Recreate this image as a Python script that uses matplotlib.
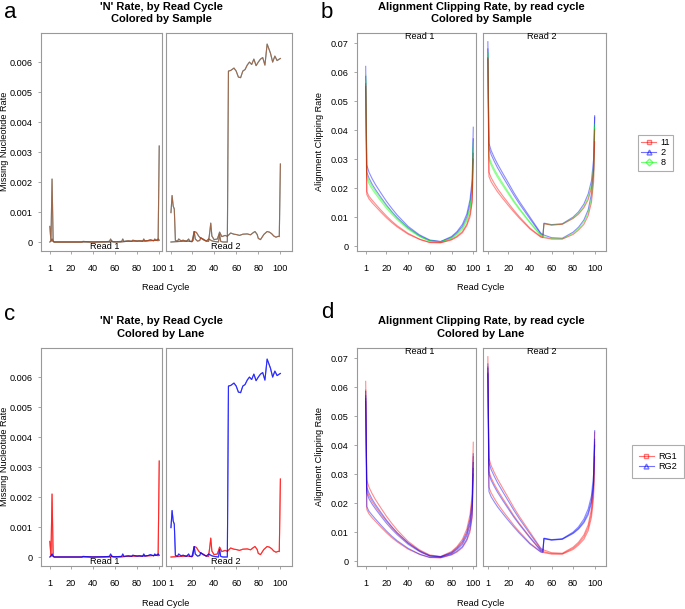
import matplotlib
matplotlib.use("Agg")
import matplotlib.pyplot as plt
from matplotlib.lines import Line2D
from matplotlib.transforms import blended_transform_factory

plt.rcParams['font.family'] = ['Liberation Sans', 'DejaVu Sans']

# ---------------- data ----------------
SAMPLES = ['11', '2', '8']
LANES = ['RG1', 'RG2']
SAMPLE_COLORS = {'11': '#FF0000', '2': '#0000FF', '8': '#00FF00'}
LANE_COLORS = {'RG1': '#FF0000', 'RG2': '#0000FF'}
XTICKS = [1, 20, 40, 60, 80, 100]
N_YTICKS = [0, 0.001, 0.002, 0.003, 0.004, 0.005, 0.006]
N_YTICK_LABELS = ['0', '0.001', '0.002', '0.003', '0.004', '0.005', '0.006']
CLIP_YTICKS = [0, 0.01, 0.02, 0.03, 0.04, 0.05, 0.06, 0.07]
CLIP_YTICK_LABELS = ['0', '0.01', '0.02', '0.03', '0.04', '0.05', '0.06', '0.07']

# missing nucleotide ('N') rate per lane (samples coincide)
N_R1_RG1_CYC = [1, 2, 3, 4, 5, 10, 20, 30, 40, 50, 56, 57, 58, 65, 70, 80, 90, 95, 98, 99, 100]
N_R1_RG1 = [0.00052, 0.00003, 0.0021, 0.00002, 0.0, 0.0, 0.0, 0.0, 0.0, 0.0, 0.0, 0.00004,
            0.0, 0.0, 0.00002, 0.00003, 0.00004, 0.00005, 0.00006, 0.00004, 0.0032]
N_R1_RG2_CYC = [1, 2, 3, 4, 5, 10, 20, 30, 31, 40, 50, 55, 56, 57, 60, 66, 67, 68, 72, 75,
                76, 80, 82, 85, 86, 87, 90, 92, 95, 96, 97, 98, 99, 100]
N_R1_RG2 = [0.0, 0.00003, 0.0001, 0.00002, 0.0, 0.0, 0.0, 0.0, 0.00002, 0.0, 0.00001, 0.00002,
            0.0001, 0.00002, 0.00001, 0.00002, 0.0001, 0.00002, 0.00004, 0.00002, 0.00006,
            0.00003, 0.00004, 0.00002, 0.0001, 0.00003, 0.00005, 0.00008, 0.00004, 0.0001,
            0.00005, 0.00007, 0.0001, 0.00006]
N_R2_RG1_CYC = [1, 5, 10, 15, 20, 21, 22, 24, 26, 28, 30, 33, 35, 36, 37, 38, 40, 43, 45, 47,
                50, 52, 55, 58, 60, 63, 66, 70, 73, 75, 77, 79, 80, 82, 85, 88, 90, 92, 94,
                96, 98, 99, 100]
N_R2_RG1 = [0.0, 0.00001, 0.00002, 0.00003, 0.00002, 0.00005, 0.00035, 0.00032, 0.0002,
            0.00012, 0.0001, 0.00003, 0.00002, 0.0003, 0.00063, 0.0002, 0.00008, 0.0001,
            0.00033, 0.00018, 0.00022, 0.00019, 0.0003, 0.00026, 0.00025, 0.00022, 0.00026,
            0.00027, 0.00024, 0.0003, 0.00035, 0.00025, 0.00012, 0.00008, 0.00025, 0.00035,
            0.00033, 0.00028, 0.0002, 0.00016, 0.00019, 0.00018, 0.0026]
N_R2_RG2_CYC = [1, 2, 3, 4, 5, 7, 8, 10, 12, 15, 17, 18, 20, 22, 23, 25, 27, 28, 30, 33, 35,
                38, 40, 42, 44, 45, 46, 48, 50, 52, 53, 55, 58, 60, 62, 64, 66, 68, 70, 72,
                74, 76, 78, 80, 82, 84, 86, 88, 89, 91, 93, 95, 97, 99, 100]
N_R2_RG2 = [0.00098, 0.00155, 0.0012, 0.0011, 0.00005, 0.00003, 0.0001, 0.00004, 0.00006,
            0.00002, 0.0001, 0.00002, 0.00001, 0.00035, 0.0001, 0.00003, 0.00005, 0.00015,
            0.00008, 0.00003, 0.0001, 0.00004, 0.00002, 0.00001, 0.0, 0.00025, 0.00002, 0.0,
            0.0, 0.0, 0.0057, 0.00572, 0.0058, 0.0057, 0.0055, 0.00548, 0.0057, 0.00575,
            0.0059, 0.006, 0.00592, 0.0061, 0.00588, 0.006, 0.0061, 0.00615, 0.0059, 0.0066,
            0.0065, 0.0063, 0.006, 0.0062, 0.00605, 0.0061, 0.00612]

# alignment clipping rate per sample and lane
CLIP_CYC = [1, 2, 4, 7, 10, 15, 20, 25, 30, 40, 50, 52, 53, 60, 70, 80, 85, 90, 94, 97, 99, 100]
CLIP_R1_S2_RG1 = [0.062, 0.0280, 0.0255, 0.0232, 0.0212, 0.0183, 0.0155, 0.0130, 0.0107, 0.0068,
                  0.0040, 0.0036, 0.0034, 0.0021, 0.0016, 0.0033, 0.0050, 0.0075, 0.0110, 0.0160,
                  0.0230, 0.0410]
CLIP_R1_S2_RG2 = [0.0585, 0.0255, 0.0235, 0.0213, 0.0195, 0.0168, 0.0142, 0.0119, 0.0098, 0.0063,
                  0.0037, 0.0033, 0.0031, 0.0019, 0.0015, 0.0030, 0.0046, 0.0068, 0.0100, 0.0145,
                  0.0210, 0.0370]
CLIP_R1_S8_RG1 = [0.059, 0.0245, 0.0225, 0.0205, 0.0188, 0.0162, 0.0138, 0.0116, 0.0096, 0.0062,
                  0.0036, 0.0032, 0.0030, 0.0018, 0.0015, 0.0028, 0.0043, 0.0063, 0.0093, 0.0135,
                  0.0195, 0.0360]
CLIP_R1_S8_RG2 = [0.057, 0.0235, 0.0215, 0.0196, 0.0180, 0.0155, 0.0131, 0.0110, 0.0091, 0.0058,
                  0.0034, 0.0030, 0.0028, 0.0017, 0.0014, 0.0026, 0.0040, 0.0058, 0.0087, 0.0125,
                  0.0180, 0.0340]
CLIP_R1_S11_RG1 = [0.055, 0.0178, 0.0163, 0.0149, 0.0137, 0.0117, 0.0098, 0.0081, 0.0066, 0.0041,
                   0.0024, 0.0021, 0.0020, 0.0012, 0.0011, 0.0021, 0.0031, 0.0046, 0.0070, 0.0100,
                   0.0150, 0.0300]
CLIP_R1_S11_RG2 = [0.056, 0.0188, 0.0172, 0.0158, 0.0145, 0.0124, 0.0104, 0.0086, 0.0070, 0.0044,
                   0.0025, 0.0022, 0.0021, 0.0013, 0.0012, 0.0023, 0.0034, 0.0050, 0.0075, 0.0110,
                   0.0160, 0.0320]
CLIP_R2_S2_RG1 = [0.0705, 0.0355, 0.0330, 0.0305, 0.0283, 0.0250, 0.0218, 0.0185, 0.0155, 0.0100,
                  0.0045, 0.0040, 0.0038, 0.0029, 0.0027, 0.0048, 0.0065, 0.0090, 0.0125, 0.0180,
                  0.0260, 0.0445]
CLIP_R2_S2_RG2 = [0.068, 0.0340, 0.0316, 0.0292, 0.0270, 0.0238, 0.0207, 0.0176, 0.0147, 0.0094,
                  0.0042, 0.0037, 0.0079, 0.0074, 0.0077, 0.0100, 0.0118, 0.0145, 0.0180, 0.0225,
                  0.0300, 0.0450]
CLIP_R2_S8_RG1 = [0.067, 0.0310, 0.0288, 0.0265, 0.0245, 0.0215, 0.0186, 0.0157, 0.0131, 0.0083,
                  0.0038, 0.0034, 0.0032, 0.0026, 0.0025, 0.0044, 0.0060, 0.0083, 0.0115, 0.0165,
                  0.0240, 0.0410]
CLIP_R2_S8_RG2 = [0.0665, 0.0300, 0.0279, 0.0257, 0.0237, 0.0208, 0.0180, 0.0152, 0.0127, 0.0080,
                  0.0036, 0.0033, 0.0078, 0.0073, 0.0076, 0.0097, 0.0113, 0.0137, 0.0168, 0.0210,
                  0.0275, 0.0420]
CLIP_R2_S11_RG1 = [0.065, 0.0255, 0.0236, 0.0216, 0.0198, 0.0172, 0.0148, 0.0124, 0.0102, 0.0062,
                   0.0033, 0.0030, 0.0029, 0.0024, 0.0024, 0.0040, 0.0055, 0.0075, 0.0105, 0.0150,
                   0.0220, 0.0360]
CLIP_R2_S11_RG2 = [0.0645, 0.0240, 0.0222, 0.0204, 0.0187, 0.0163, 0.0140, 0.0118, 0.0097, 0.0059,
                   0.0031, 0.0029, 0.0077, 0.0072, 0.0075, 0.0095, 0.0110, 0.0132, 0.0160, 0.0200,
                   0.0265, 0.0400]

N_DATA = {
    ('Read 1', 'RG1'): (N_R1_RG1_CYC, N_R1_RG1),
    ('Read 1', 'RG2'): (N_R1_RG2_CYC, N_R1_RG2),
    ('Read 2', 'RG1'): (N_R2_RG1_CYC, N_R2_RG1),
    ('Read 2', 'RG2'): (N_R2_RG2_CYC, N_R2_RG2),
}
CLIP_DATA = {
    ('Read 1', '2', 'RG1'): CLIP_R1_S2_RG1, ('Read 1', '2', 'RG2'): CLIP_R1_S2_RG2,
    ('Read 1', '8', 'RG1'): CLIP_R1_S8_RG1, ('Read 1', '8', 'RG2'): CLIP_R1_S8_RG2,
    ('Read 1', '11', 'RG1'): CLIP_R1_S11_RG1, ('Read 1', '11', 'RG2'): CLIP_R1_S11_RG2,
    ('Read 2', '2', 'RG1'): CLIP_R2_S2_RG1, ('Read 2', '2', 'RG2'): CLIP_R2_S2_RG2,
    ('Read 2', '8', 'RG1'): CLIP_R2_S8_RG1, ('Read 2', '8', 'RG2'): CLIP_R2_S8_RG2,
    ('Read 2', '11', 'RG1'): CLIP_R2_S11_RG1, ('Read 2', '11', 'RG2'): CLIP_R2_S11_RG2,
}

# ---------------- layout ----------------
W, H = 685, 609
fig = plt.figure(figsize=(W / 100, H / 100), dpi=100)
GREY = '#999999'
FS = 6.6
TFS = 8.0
ALPHA = 0.45
LW = 0.8


def px_axes(x0, y0, x1, y1):
    return fig.add_axes([x0 / W, 1 - y1 / H, (x1 - x0) / W, (y1 - y0) / H])


def style(ax, read, ylim, yticks, ylabels, left):
    ax.set_xlim(-7, 102.5) if read == 'Read 1' else ax.set_xlim(-3.5, 110.5)
    ax.set_ylim(*ylim)
    ax.set_xticks(XTICKS)
    ax.set_xticklabels([str(t) for t in XTICKS], fontsize=FS)
    ax.set_yticks(yticks)
    if left:
        ax.set_yticklabels(ylabels, fontsize=FS)
    else:
        ax.tick_params(axis='y', left=False, labelleft=False)
    for s in ax.spines.values():
        s.set_color(GREY)
        s.set_linewidth(0.8)
    ax.tick_params(direction='out', length=2.5, width=0.6, color=GREY)
    ax.tick_params(axis='x', pad=7)
    ax.tick_params(axis='y', pad=3.5)


def draw_n(top, by):
    for read, (x0, x1) in [('Read 1', (41, 162)), ('Read 2', (166, 292))]:
        ax = px_axes(x0, top, x1, top + 218)
        if by == 'sample':
            for s in ['2', '8', '11']:
                for lane in LANES:
                    cyc, val = N_DATA[(read, lane)]
                    ax.plot(cyc, val, color=SAMPLE_COLORS[s], alpha=ALPHA, lw=LW)
        else:
            for lane in LANES:
                cyc, val = N_DATA[(read, lane)]
                for s in SAMPLES:
                    ax.plot(cyc, val, color=LANE_COLORS[lane], alpha=ALPHA, lw=LW)
        style(ax, read, (-0.0003, 0.00697), N_YTICKS, N_YTICK_LABELS, read == 'Read 1')
        tr = blended_transform_factory(ax.transData, ax.transAxes)
        ax.text(50.5, 0.02, read, transform=tr, ha='center', va='center', fontsize=FS)


def draw_clip(top, by):
    for read, (x0, x1) in [('Read 1', (357, 476)), ('Read 2', (483, 606))]:
        ax = px_axes(x0, top, x1, top + 218)
        if by == 'sample':
            for s in ['2', '8', '11']:
                for lane in LANES:
                    ax.plot(CLIP_CYC, CLIP_DATA[(read, s, lane)],
                            color=SAMPLE_COLORS[s], alpha=ALPHA, lw=LW)
        else:
            for lane in LANES:
                for s in SAMPLES:
                    ax.plot(CLIP_CYC, CLIP_DATA[(read, s, lane)],
                            color=LANE_COLORS[lane], alpha=ALPHA, lw=LW)
        style(ax, read, (-0.0017, 0.0735), CLIP_YTICKS, CLIP_YTICK_LABELS, read == 'Read 1')
        tr = blended_transform_factory(ax.transData, ax.transAxes)
        ax.text(50.5, 0.982, read, transform=tr, ha='center', va='center', fontsize=FS)


def ftext(x, y, s, **kw):
    fig.text(x / W, 1 - y / H, s, **kw)


draw_n(33, 'sample')
draw_clip(33, 'sample')
draw_n(348, 'lane')
draw_clip(348, 'lane')

# titles
TITLES = [
    (161, 7, 19, "'N' Rate, by Read Cycle", "Colored by Sample"),
    (481, 7, 19, "Alignment Clipping Rate, by read cycle", "Colored by Sample"),
    (161, 321, 334, "'N' Rate, by Read Cycle", "Colored by Lane"),
    (481, 321, 334, "Alignment Clipping Rate, by read cycle", "Colored by Lane"),
]
for x, y1, y2, t1, t2 in TITLES:
    ftext(x, y1, t1, ha='center', va='center', fontsize=TFS, fontweight='bold')
    ftext(x, y2, t2, ha='center', va='center', fontsize=TFS, fontweight='bold')

# panel letters
for letter, x, y in [('a', 4, 18), ('b', 321, 18), ('c', 4, 320), ('d', 321, 318)]:
    ftext(x, y, letter, ha='left', va='baseline', fontsize=16)

# axis labels
for x, y in [(166, 287), (481, 287), (166, 603), (481, 603)]:
    ftext(x, y, 'Read Cycle', ha='center', va='center', fontsize=FS)
ftext(5, 141, 'Missing Nucleotide Rate', rotation=90, ha='center', va='center', fontsize=FS)
ftext(5, 456, 'Missing Nucleotide Rate', rotation=90, ha='center', va='center', fontsize=FS)
ftext(320, 142, 'Alignment Clipping Rate', rotation=90, ha='center', va='center', fontsize=FS)
ftext(320, 457, 'Alignment Clipping Rate', rotation=90, ha='center', va='center', fontsize=FS)

# legends
markers = {'11': 's', '2': '^', '8': 'D', 'RG1': 's', 'RG2': '^'}
h1 = [Line2D([], [], color=SAMPLE_COLORS[s], alpha=ALPHA + 0.1, lw=LW, marker=markers[s],
             markersize=3.5, mfc='none') for s in SAMPLES]
h2 = [Line2D([], [], color=LANE_COLORS[l], alpha=ALPHA + 0.1, lw=LW, marker=markers[l],
             markersize=3.5, mfc='none') for l in LANES]
for handles, labels, (lx, ly), bp in [(h1, SAMPLES, (638, 135), 0.35),
                                      (h2, LANES, (632, 445), 0.75)]:
    leg = fig.legend(handles, labels, loc='upper left', bbox_to_anchor=(lx / W, 1 - ly / H),
                     fontsize=FS, frameon=True, fancybox=False, handlelength=1.6,
                     handletextpad=0.5, borderpad=bp, labelspacing=0.12, borderaxespad=0,
                     numpoints=1)
    leg.get_frame().set_edgecolor(GREY)
    leg.get_frame().set_linewidth(0.8)

fig.savefig('out.png', dpi=100)
